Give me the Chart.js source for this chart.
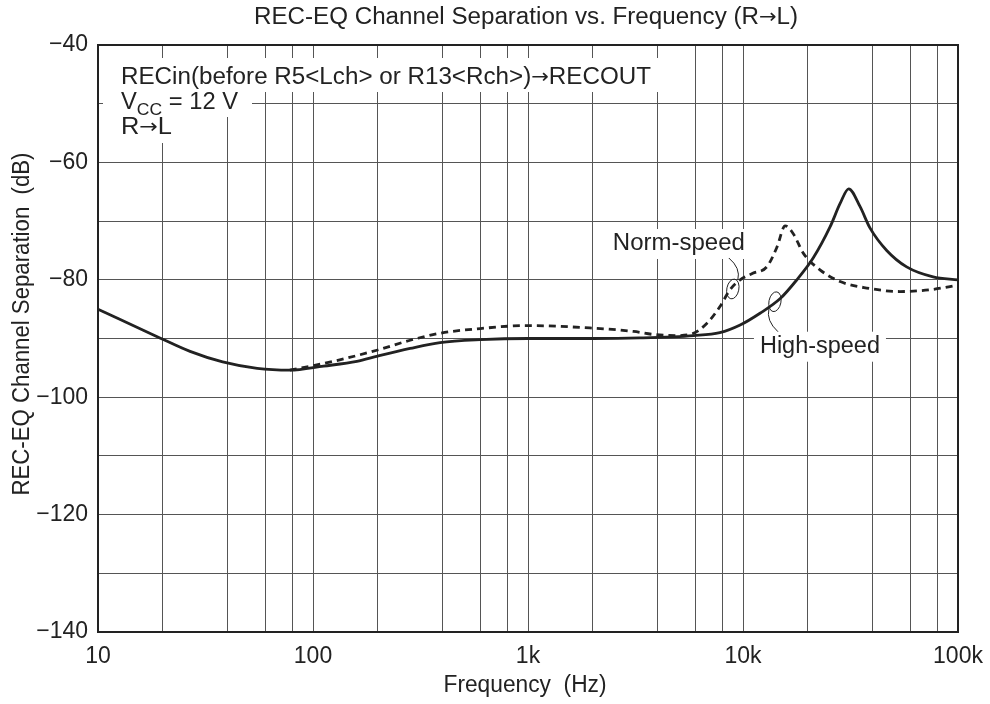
<!DOCTYPE html>
<html>
<head>
<meta charset="utf-8">
<script src="https://cdn.jsdelivr.net/npm/chart.js@4.4.0/dist/chart.umd.min.js"></script>
<style>
  body { margin: 0; background: #fff; }
  canvas { display: block; }
</style>
</head>
<body>
<canvas id="sepChart" width="990" height="704"></canvas>
<script>
// values
const freqHigh = [10, 19.4, 26.8, 38, 55, 78, 112, 160, 200, 283, 390, 600, 1000, 2000, 3300, 5900, 7800, 9700, 12000, 14900, 17800, 21200, 25400, 28300, 31000, 35000, 39000, 46600, 57700, 76600, 100000];
const dbHigh = [-85, -89.9, -92.2, -94, -95.1, -95.4, -94.7, -93.9, -93, -91.7, -90.7, -90.2, -90, -90, -89.9, -89.5, -89.0, -87.7, -85.7, -83.2, -80, -76.3, -71, -67, -64.5, -67.5, -71.2, -75, -77.8, -79.5, -80];

const freqNorm = [78, 124, 198, 283, 390, 600, 986, 1940, 3100, 3800, 4900, 5800, 6800, 7800, 8700, 9700, 11100, 12900, 14400, 15700, 17100, 19100, 22800, 28300, 37600, 53700, 74000, 100000];
const dbNorm = [-95.4, -93.9, -92, -90.3, -89.1, -88.3, -87.8, -88.2, -88.8, -89.3, -89.5, -89.2, -87.4, -84.6, -81.7, -80, -78.9, -77.8, -74.4, -70.8, -72.1, -75.5, -78.3, -80.3, -81.4, -82, -81.7, -80.9];

const xGrid = [10, 20, 40, 60, 80, 100, 200, 400, 600, 800, 1000, 2000, 4000, 6000, 8000, 10000, 20000, 40000, 60000, 80000, 100000];
const xLabels = { 10: '10', 100: '100', 1000: '1k', 10000: '10k', 100000: '100k' };

const FONT = '"Liberation Sans", Arial, Helvetica, sans-serif';
const ARROW_FONT = '"DejaVu Sans", sans-serif';
const SIZE = 23;
const INK = '#222';

function toPoints(xs, ys) {
    return xs.map((x, i) => ({ x: x, y: ys[i] }));
}

function txt(t) { return { t: t, font: SIZE + 'px ' + FONT, dy: 0 }; }
function arrow() { return { t: '\u2192', font: (SIZE - 3) + 'px ' + ARROW_FONT, dy: 0 }; }

// draws a row of text runs, stretched to a target width when one is given
function drawRuns(ctx, runs, x, y, align, target) {
    let w = 0;
    runs.forEach(r => { ctx.font = r.font; w += ctx.measureText(r.t).width; });
    const s = target ? target / w : 1;
    ctx.save();
    ctx.translate(x, y);
    ctx.scale(s, 1);
    ctx.textAlign = 'left';
    ctx.textBaseline = 'middle';
    let cx = align === 'center' ? -w / 2 : 0;
    runs.forEach(r => {
        ctx.font = r.font;
        ctx.fillText(r.t, cx, r.dy);
        cx += ctx.measureText(r.t).width;
    });
    ctx.restore();
}

// title, axis titles, note box and curve labels
const decorations = {
    id: 'decorations',
    afterDraw(chart) {
        const ctx = chart.ctx;
        const area = chart.chartArea;
        const xs = chart.scales.x;
        const ys = chart.scales.y;
        ctx.save();

        // frame
        ctx.strokeStyle = INK;
        ctx.lineWidth = 2;
        ctx.strokeRect(area.left, area.top, area.right - area.left, area.bottom - area.top);

        ctx.fillStyle = INK;

        // chart title
        drawRuns(ctx, [txt('REC-EQ Channel Separation vs. Frequency (R'), arrow(), txt('L)')], 526, 18, 'center', 544);

        // axis titles
        drawRuns(ctx, [txt('Frequency  (Hz)')], 525, 686, 'center', 163);
        ctx.save();
        ctx.translate(23, 324);
        ctx.rotate(-Math.PI / 2);
        drawRuns(ctx, [txt('REC-EQ Channel Separation  (dB)')], 0, 0, 'center', 343);
        ctx.restore();

        // note box in the upper left
        const lx = area.left + 23;
        ctx.fillStyle = '#fff';
        ctx.fillRect(area.left + 5, 58, 562, 34);
        ctx.fillRect(area.left + 5, 92, 149, 25);
        ctx.fillRect(area.left + 5, 117, 82, 26);
        ctx.fillStyle = INK;
        drawRuns(ctx, [txt('RECin(before R5<Lch> or R13<Rch>)'), arrow(), txt('RECOUT')], lx, 78, 'left', 530);
        drawRuns(ctx, [txt('V'), { t: 'CC', font: '17px ' + FONT, dy: 7 }, txt(' = 12 V')], lx, 103, 'left', 117);
        drawRuns(ctx, [txt('R'), arrow(), txt('L')], lx, 128, 'left', 51);

        // curve labels with leader loops
        const labels = [
            { text: 'Norm-speed', w: 132, f: 5030, db: -73.9, from: [50, 14], ctrl: [62, 24], to: [59, 36], loop: [54, 45] },
            { text: 'High-speed', w: 120, f: 22800, db: -91.4, from: [-42, -15], ctrl: [-54, -26], to: [-51, -38], loop: [-45, -45] }
        ];
        labels.forEach(l => {
            const px = xs.getPixelForValue(l.f);
            const py = ys.getPixelForValue(l.db);
            ctx.fillStyle = '#fff';
            ctx.fillRect(px - l.w / 2 - 6, py - 15, l.w + 12, 30);
            ctx.fillStyle = INK;
            drawRuns(ctx, [txt(l.text)], px, py, 'center', l.w);
            ctx.strokeStyle = INK;
            ctx.lineWidth = 1;
            ctx.beginPath();
            ctx.moveTo(px + l.from[0], py + l.from[1]);
            ctx.quadraticCurveTo(px + l.ctrl[0], py + l.ctrl[1], px + l.to[0], py + l.to[1]);
            ctx.stroke();
            ctx.beginPath();
            ctx.ellipse(px + l.loop[0], py + l.loop[1], 6, 10, 0.2, 0, Math.PI * 2);
            ctx.stroke();
        });

        ctx.restore();
    }
};

const ctx = document.getElementById('sepChart').getContext('2d');
const sepChart = new Chart(ctx, {
    type: 'scatter',
    data: {
        datasets: [
            {
                label: 'High-speed',
                data: toPoints(freqHigh, dbHigh),
                showLine: true,
                borderColor: INK,
                borderWidth: 2.8,
                pointRadius: 0,
                cubicInterpolationMode: 'monotone'
            },
            {
                label: 'Norm-speed',
                data: toPoints(freqNorm, dbNorm),
                showLine: true,
                borderColor: INK,
                borderWidth: 2.8,
                borderDash: [7, 5],
                pointRadius: 0,
                cubicInterpolationMode: 'monotone'
            }
        ]
    },
    options: {
        responsive: false,
        animation: false,
        layout: { padding: { top: 45, right: 32, left: 0, bottom: 0 } },
        plugins: {
            legend: { display: false },
            tooltip: { enabled: false }
        },
        scales: {
            x: {
                type: 'logarithmic',
                min: 10,
                max: 100000,
                afterBuildTicks: scale => {
                    scale.ticks = xGrid.map(v => ({ value: v }));
                },
                afterFit: scale => {
                    scale.height = 72;
                    scale.paddingLeft = 0;
                    scale.paddingRight = 0;
                },
                grid: { color: '#555', lineWidth: 1, drawTicks: false },
                border: { display: false },
                ticks: {
                    autoSkip: false,
                    maxRotation: 0,
                    padding: 11,
                    color: INK,
                    font: { family: FONT, size: SIZE },
                    callback: v => xLabels[v] || ''
                }
            },
            y: {
                min: -140,
                max: -40,
                afterFit: scale => { scale.width = 98; },
                grid: { color: '#555', lineWidth: 1, drawTicks: false },
                border: { display: false },
                ticks: {
                    stepSize: 10,
                    autoSkip: false,
                    padding: 10,
                    color: INK,
                    font: { family: FONT, size: SIZE },
                    callback: v => (v % 20 === 0 ? '\u2212' + Math.abs(v) : '')
                }
            }
        }
    },
    plugins: [decorations]
});
</script>
</body>
</html>
